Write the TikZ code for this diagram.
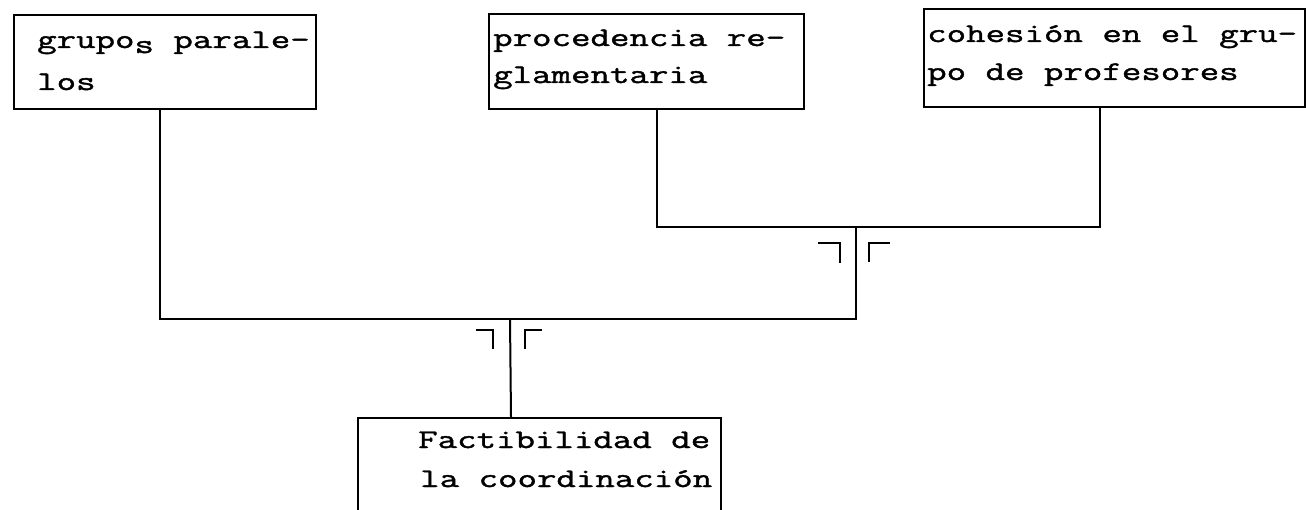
\documentclass[tikz,border=0pt]{standalone}
\usepackage{fontspec}
\newfontfamily\tw[FakeStretch=1.4,FakeBold=1.5]{Latin Modern Mono}
\newcommand\twfont{\tw\fontsize{27}{27}\selectfont}
\begin{document}
\begin{tikzpicture}[x=1pt,y=-1pt,
  box/.style={draw, line width=2pt, inner sep=0pt, anchor=north west},
  txt/.style={font=\twfont, inner sep=0pt, anchor=base west},
  conn/.style={line width=2pt},
  tick/.style={line width=2.2pt}]
\useasboundingbox (0,0) rectangle (1306,510);
\clip (0,0) rectangle (1306,510);
\fill[white] (0,0) rectangle (1306,510);
% boxes
\node[box, minimum width=302pt, minimum height=94pt] (b1) at (13,14) {};
\node[box, minimum width=315pt, minimum height=95pt] (b2) at (488,13) {};
\node[box, minimum width=381pt, minimum height=98pt] (b3) at (923,8) {};
\node[box, minimum width=363pt, minimum height=113pt] (b4) at (357,417) {};
% texts
\node[txt] (t1a) at (37,48) {grupo\raisebox{-5pt}{s} parale-};
\node[txt] (t1b) at (37,90) {los};
\node[txt] (t2a) at (493,46) {procedencia re-};
\node[txt] (t2b) at (493,83) {glamentaria};
\node[txt] (t3a) at (927,42) {cohesión en el gru-};
\node[txt] (t3b) at (927,80) {po de profesores};
\node[txt] (t4a) at (418,448) {Factibilidad de};
\node[txt] (t4b) at (420,487) {la coordinación};
% junctions
\coordinate (ja) at (856,227);
\coordinate (jb) at (510,319);
% connectors
\draw[conn] ([xshift=10.5pt]b2.south) |- (ja) -| ([xshift=-14.5pt]b3.south);
\draw[conn] ([xshift=-5pt]b1.south) |- (jb) -- (jb -| ja) -- (ja);
\draw[conn] (jb) -- ([xshift=-28.5pt]b4.north);
% corner marks
\draw[tick] ([shift={(-38,16)}]ja) -- ++(22,0) -- ++(0,20);
\draw[tick] ([shift={(13,35)}]ja) -- ++(0,-19) -- ++(21,0);
\draw[tick] ([shift={(-34,11)}]jb) -- ++(17,0) -- ++(0,19);
\draw[tick] ([shift={(15,30)}]jb) -- ++(0,-19) -- ++(17,0);
\end{tikzpicture}
\end{document}
